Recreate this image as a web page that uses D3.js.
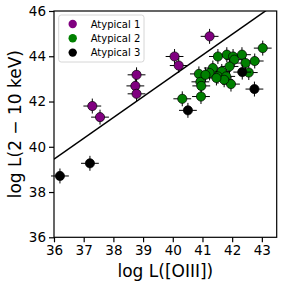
<!DOCTYPE html>
<html>
<meta charset="utf-8">
<head>
<style>
body { margin: 0; background: #fff; }
svg { font-family: "DejaVu Sans", sans-serif; }
.tick text { font-size: 13.5px; fill: #000; }
</style>
</head>
<body>
<script src="https://d3js.org/d3.v7.min.js"></script>
<script>

// log L([OIII]) and log L(2-10 keV) for each group
var atyp1X = [37.29, 37.55, 38.78, 38.74, 38.78, 41.24, 40.06, 40.20];
var atyp1Y = [41.80, 41.31, 43.18, 42.69, 42.34, 44.88, 43.99, 43.59];

var atyp2X = [41.52, 41.82, 42.03, 42.33, 43.03, 42.76, 42.45, 42.07, 41.91, 41.35,
              41.24, 41.65, 41.52, 41.80, 42.56, 40.88, 40.93, 40.96, 41.96, 40.32,
              40.95, 41.10, 41.73, 41.47];
var atyp2Y = [43.99, 44.07, 43.99, 44.07, 44.36, 43.79, 43.70, 43.85, 43.55, 43.48,
              43.26, 43.33, 43.11, 43.11, 43.28, 43.22, 42.87, 42.69, 42.77, 42.12,
              42.22, 43.18, 42.96, 43.04];

var atyp3X = [36.20, 37.21, 40.51, 42.34, 42.75];
var atyp3Y = [38.71, 39.27, 41.61, 43.30, 42.55];

var errX = 0.3, errY = 0.33;

// reference relation
var lineX = [36, 43.5];
var lineY = [39.45, 39.45 + 0.92 * 7.5];

var xTicks = [36, 37, 38, 39, 40, 41, 42, 43];
var yTicks = [36, 38, 40, 42, 44, 46];

var groups = [
  {name: "Atypical 1", color: "#800080", xs: atyp1X, ys: atyp1Y},
  {name: "Atypical 2", color: "#008000", xs: atyp2X, ys: atyp2Y},
  {name: "Atypical 3", color: "#000000", xs: atyp3X, ys: atyp3Y}
];

var margin = {top: 11, right: 10.3, bottom: 49.7, left: 54},
    width = 287 - margin.left - margin.right,
    height = 287 - margin.top - margin.bottom;

var svg = d3.select("body").append("svg")
    .attr("width", 287)
    .attr("height", 287)
  .append("g")
    .attr("transform", "translate(" + margin.left + "," + margin.top + ")");

var x = d3.scaleLinear().domain([36, 43.5]).range([0, width]);
var y = d3.scaleLinear().domain([36, 46]).range([height, 0]);

svg.append("clipPath").attr("id", "clip")
  .append("rect").attr("width", width).attr("height", height);

var line = d3.line()
    .x(function(d) { return x(d[0]); })
    .y(function(d) { return y(d[1]); });

svg.append("path")
    .attr("clip-path", "url(#clip)")
    .attr("d", line(d3.zip(lineX, lineY)))
    .style("fill", "none")
    .style("stroke", "black")
    .style("stroke-width", 1.5);

groups.forEach(function(g) {
  var pts = d3.zip(g.xs, g.ys);
  var grp = svg.append("g");
  grp.selectAll(".ex").data(pts).enter()
    .append("line")
    .attr("x1", d => x(d[0] - errX)).attr("x2", d => x(d[0] + errX))
    .attr("y1", d => y(d[1])).attr("y2", d => y(d[1]))
    .style("stroke", "black").style("stroke-width", 1);
  grp.selectAll(".ey").data(pts).enter()
    .append("line")
    .attr("x1", d => x(d[0])).attr("x2", d => x(d[0]))
    .attr("y1", d => y(d[1] - errY)).attr("y2", d => y(d[1] + errY))
    .style("stroke", "black").style("stroke-width", 1);
  grp.selectAll("circle").data(pts).enter()
    .append("circle")
    .attr("cx", d => x(d[0]))
    .attr("cy", d => y(d[1]))
    .attr("r", 4.6)
    .style("fill", g.color)
    .style("stroke", "black")
    .style("stroke-width", 0.7);
});

// frame
svg.append("rect")
    .attr("width", width).attr("height", height)
    .style("fill", "none").style("stroke", "black").style("stroke-width", 1.2);

var xAxis = svg.append("g")
    .attr("transform", "translate(0," + height + ")")
    .call(d3.axisBottom(x).tickValues(xTicks).tickSize(5).tickPadding(3));
var yAxis = svg.append("g")
    .call(d3.axisLeft(y).tickValues(yTicks).tickSize(5).tickPadding(3));
[xAxis, yAxis].forEach(function(a) {
  a.select(".domain").remove();
  a.selectAll(".tick line").style("stroke", "black").style("stroke-width", 1.2);
  a.selectAll(".tick text").style("font-family", "DejaVu Sans");
});

svg.append("text")
    .attr("x", width / 2)
    .attr("y", height + 40)
    .style("text-anchor", "middle")
    .style("font-size", "17px")
    .text("log L([OIII])");

svg.append("text")
    .attr("transform", "rotate(-90)")
    .attr("x", -height / 2)
    .attr("y", -33)
    .style("text-anchor", "middle")
    .style("font-size", "17px")
    .text("log L(2 \u2212 10 keV)");

// legend
var legend = svg.append("g").attr("transform", "translate(4.7,4)");
legend.append("rect")
    .attr("width", 85.3).attr("height", 47)
    .attr("rx", 2.5)
    .style("fill", "white").style("fill-opacity", 0.8)
    .style("stroke", "#d6d6d6").style("stroke-width", 1);
groups.forEach(function(g, i) {
  legend.append("circle")
    .attr("cx", 14).attr("cy", 9 + i * 14.3)
    .attr("r", 4.2)
    .style("fill", g.color);
  legend.append("text")
    .attr("x", 32).attr("y", 9 + i * 14.3 + 3.6)
    .style("font-size", "10px")
    .text(g.name);
});

</script>
</body>
</html>
